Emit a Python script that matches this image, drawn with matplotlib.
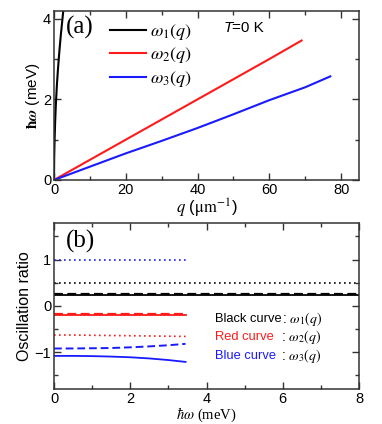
import numpy as np
import matplotlib
matplotlib.use('Agg')
import matplotlib.pyplot as plt
from matplotlib.ticker import MultipleLocator

plt.rcParams['font.family'] = ['Liberation Sans', 'DejaVu Sans']
plt.rcParams['mathtext.fontset'] = 'stix'

# panel (a): dispersion curves
q1 = [0, 0.05, 0.15, 0.3, 0.5, 0.8, 1.1, 1.5, 1.9, 2.3, 2.7]
w1 = [0, 0.55, 0.95, 1.4, 1.85, 2.35, 2.75, 3.2, 3.6, 3.95, 4.3]
q2 = [0, 10, 20, 30, 40, 50, 60, 69]
w2 = [0, 0.5, 1.0, 1.5, 2.0, 2.5, 3.0, 3.46]
q3 = [0, 10, 20, 30, 40, 50, 60, 70, 77]
w3 = [0, 0.33, 0.66, 0.97, 1.29, 1.63, 1.98, 2.3, 2.57]

# panel (b): oscillation ratios
e_full = [0, 8]
black_dot = [0.5, 0.5]
black_solid = [0.245, 0.245]
black_dash = [0.255, 0.255]
e_part = [0, 0.5, 1.0, 1.5, 2.0, 2.5, 3.0, 3.45]
red_solid = [-0.2] * 8
red_dash = [-0.185] * 8
red_dot = [-0.63, -0.63, -0.635, -0.64, -0.645, -0.65, -0.655, -0.66]
blue_dot = [1.0] * 8
blue_dash = [-0.92, -0.92, -0.915, -0.91, -0.895, -0.875, -0.85, -0.82]
blue_solid = [-1.08, -1.08, -1.085, -1.095, -1.11, -1.135, -1.17, -1.21]

red = '#ff1a1a'
blue = '#1a1aff'

fig = plt.figure(figsize=(3.82, 4.24), dpi=100)
ax1 = fig.add_axes([0.1414, 0.5755, 0.7984, 0.3993])
ax2 = fig.add_axes([0.1414, 0.082, 0.7984, 0.3932])


def style_axes(ax):
    ax.tick_params(which='both', direction='in', top=True, right=True,
                   labelsize=10.5, color='#333333', pad=2)
    ax.tick_params(which='major', length=5, width=1)
    ax.tick_params(which='minor', length=3, width=1)
    for s in ax.spines.values():
        s.set_linewidth(1.1)
        s.set_color('#333333')


ax1.plot(q1, w1, c='k', lw=1.5, label=r'$\omega_1(q)$')
ax1.plot(q2, w2, c=red, lw=1.5, label=r'$\omega_2(q)$')
ax1.plot(q3, w3, c=blue, lw=1.5, label=r'$\omega_3(q)$')
ax1.set_xlim(0, 85)
ax1.set_ylim(0, 4.2)
ax1.xaxis.set_major_locator(MultipleLocator(20))
ax1.xaxis.set_minor_locator(MultipleLocator(10))
ax1.yaxis.set_major_locator(MultipleLocator(2))
ax1.yaxis.set_minor_locator(MultipleLocator(1))
style_axes(ax1)
ax1.set_xlabel(r'$\mathbf{\mathit{q}}$ ($\mathrm{\mu m^{-1}}$)', fontsize=12, labelpad=0)
ax1.set_ylabel(r'$\boldsymbol{\hbar\omega}$ (meV)', fontsize=11, labelpad=1)
ax1.text(0.04, 0.9, '(a)', transform=ax1.transAxes, family='Liberation Serif',
         fontsize=18, va='center')
ax1.text(0.555, 0.895, 'T', transform=ax1.transAxes, style='italic',
         fontsize=11, va='center')
ax1.text(0.585, 0.895, '=0 K', transform=ax1.transAxes,
         fontsize=11, va='center')
ax1.legend(loc='upper left', bbox_to_anchor=(0.13, 1.03), frameon=False,
           fontsize=13, handlelength=2.0, handletextpad=0.2, labelspacing=0.2)

ax2.plot(e_full, black_dot, c='k', lw=1.2, ls=(0, (1, 2)))
ax2.plot(e_full, black_solid, c='k', lw=1.3)
ax2.plot(e_full, black_dash, c='k', lw=1.6, ls=(0, (4, 2)))
ax2.plot(e_part, blue_dot, c=blue, lw=1.2, ls=(0, (1, 2)))
ax2.plot(e_part, red_solid, c=red, lw=1.3)
ax2.plot(e_part, red_dash, c=red, lw=1.6, ls=(0, (4, 2)))
ax2.plot(e_part, red_dot, c=red, lw=1.2, ls=(0, (1, 2)))
ax2.plot(e_part, blue_dash, c=blue, lw=1.4, ls=(0, (4, 2)))
ax2.plot(e_part, blue_solid, c=blue, lw=1.3)
ax2.set_xlim(0, 8)
ax2.set_ylim(-1.8, 1.8)
ax2.xaxis.set_major_locator(MultipleLocator(2))
ax2.xaxis.set_minor_locator(MultipleLocator(1))
ax2.yaxis.set_major_locator(MultipleLocator(1))
ax2.yaxis.set_minor_locator(MultipleLocator(0.5))
style_axes(ax2)
ax2.set_xlabel(r'$\hbar\omega$ (meV)', fontsize=10.5, labelpad=0,
               family='Liberation Serif')
ax2.set_ylabel('Oscillation ratio', fontsize=11.5, labelpad=2)
ax2.text(0.04, 0.885, '(b)', transform=ax2.transAxes, family='Liberation Serif',
         fontsize=18, va='center')

labels = ['Black curve', 'Red curve', 'Blue curve']
colors = ['k', red, blue]
ys = [-0.28, -0.67, -1.08]
for i in range(3):
    ax2.text(4.23, ys[i], labels[i], color=colors[i], fontsize=9.3, va='center')
    ax2.text(5.95 if i else 5.98, ys[i], ': $\\omega_%d(\\mathit{q})$' % (i + 1),
             color='k', fontsize=10, va='center')

fig.savefig('out.png', dpi=100)
